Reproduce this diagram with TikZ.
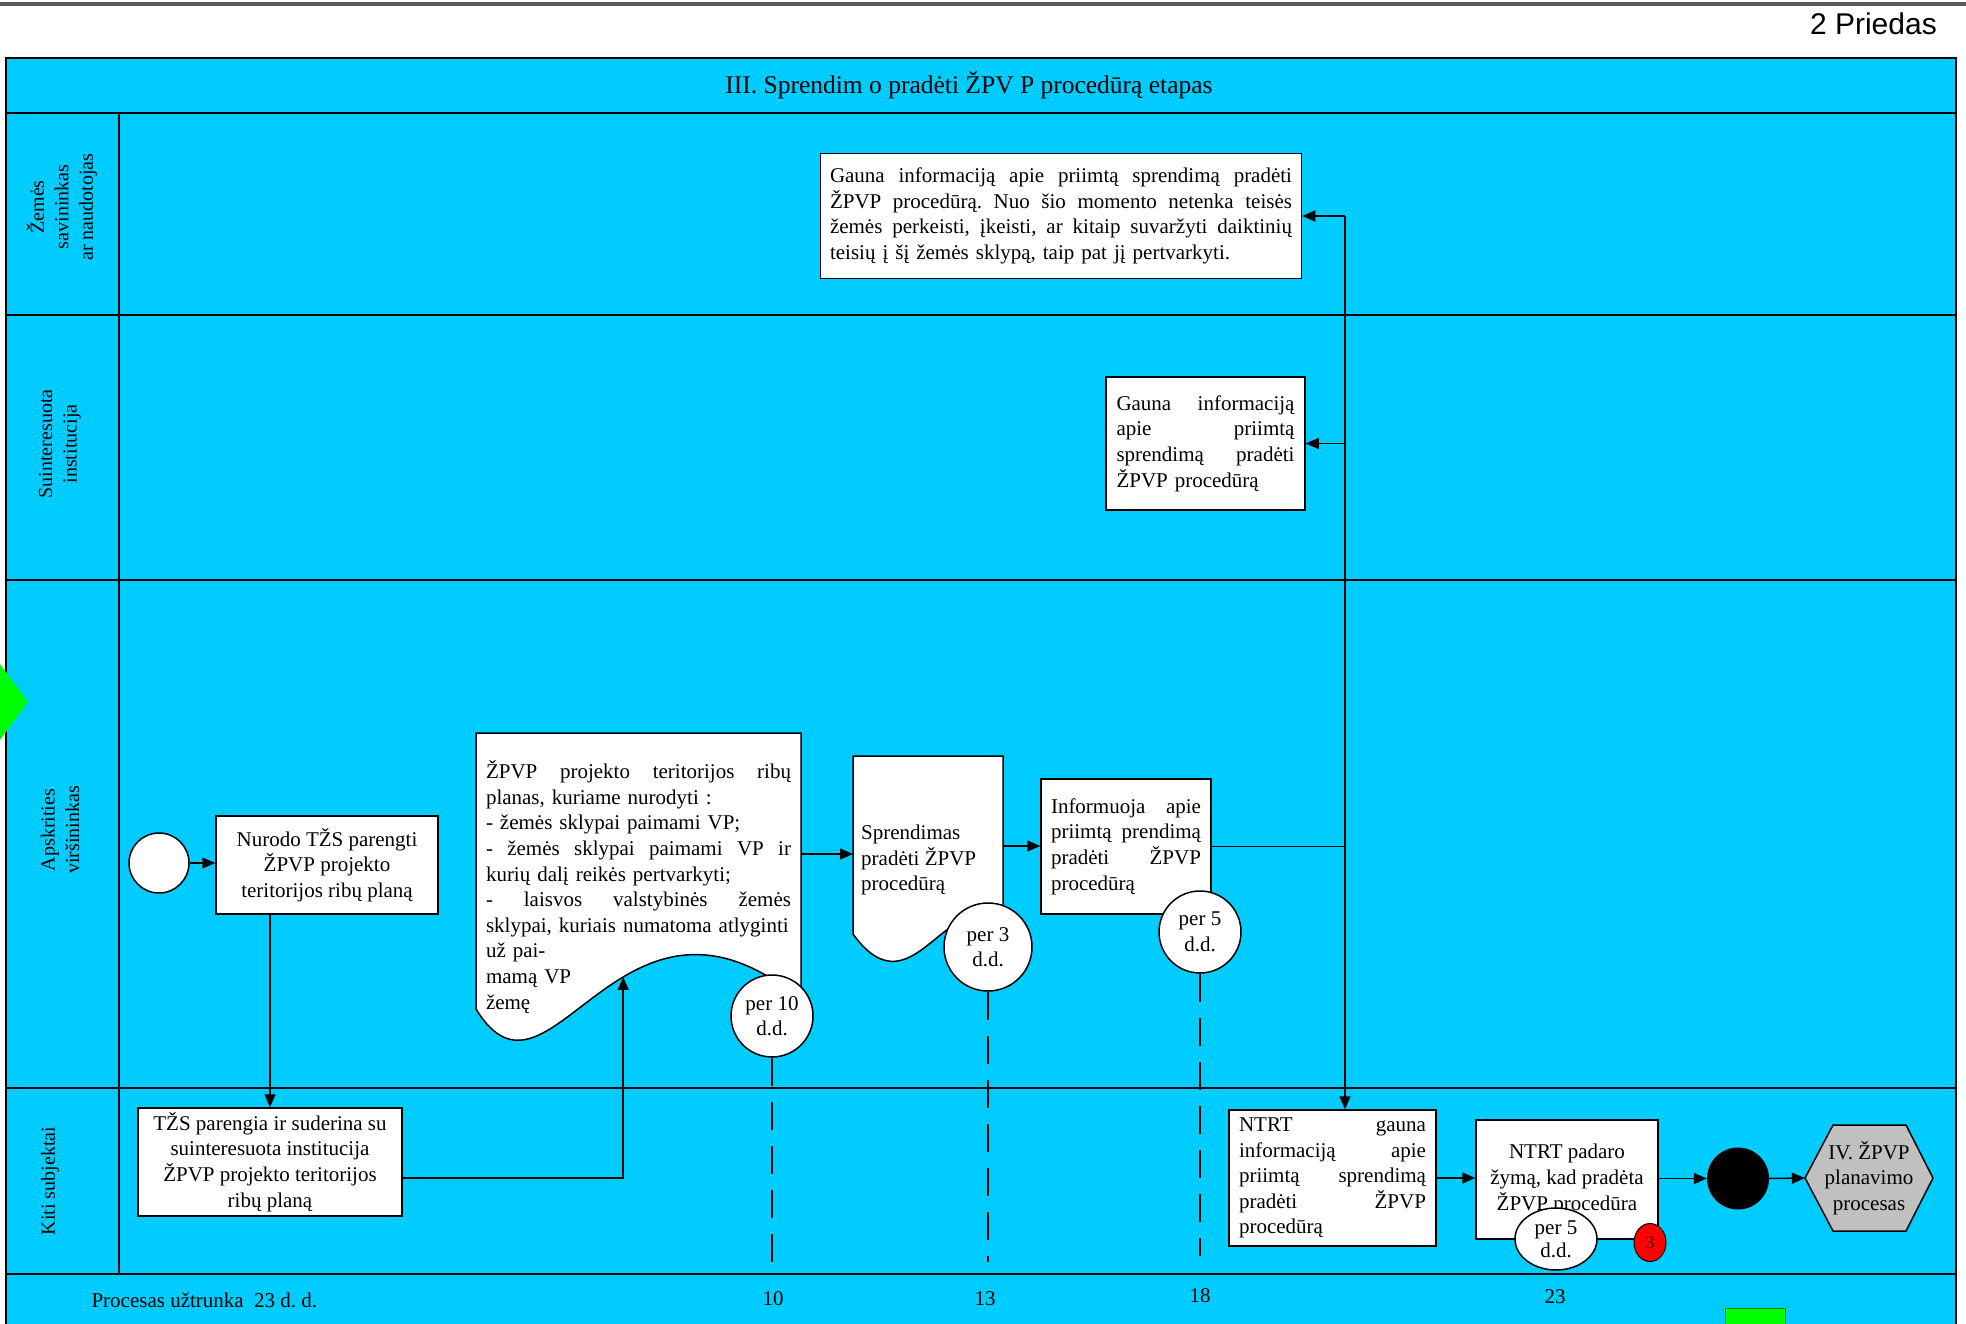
\documentclass[tikz,border=0pt]{standalone}
\usepackage{fontspec}
\setmainfont{Liberation Serif}
\newfontfamily\arialf{Liberation Sans}
\usetikzlibrary{arrows.meta,shapes.geometric,calc}
\definecolor{laneblue}{RGB}{0,204,255}
\definecolor{hexgray}{RGB}{192,192,192}
\definecolor{topgray}{RGB}{90,90,90}
\definecolor{startgreen}{RGB}{0,255,0}
\frenchspacing
\newcommand\jline[2]{\leavevmode\hbox to #1{\spaceskip=0.25em plus 1fil minus 0.05em\relax #2}}
\begin{document}
\begin{tikzpicture}[x=1pt,y=-1pt,
  txt/.style={font=\fontsize{21}{25.6}\selectfont, text=black},
  box/.style={txt, draw=black, line width=1.5pt, fill=white, inner sep=0pt, rectangle},
  lane/.style={line width=1.8pt, draw=black},
  conn/.style={line width=1.5pt, -{Triangle[length=13pt,width=11pt]}},
  plainconn/.style={line width=1.5pt},
  timer/.style={txt, circle, draw=black, line width=1.5pt, fill=white, inner sep=0pt, align=center, minimum size=82pt},
  dashline/.style={line width=1.5pt, dash pattern=on 28pt off 16pt},
  lanelabel/.style={txt, rotate=90, align=center, font=\fontsize{20}{24.5}\selectfont},
  docshape/.style={line width=1.5pt, draw=black, fill=white},
]
\useasboundingbox (0,0) rectangle (1966,1324);
\clip (0,0) rectangle (1966,1324);
\fill[white] (0,0) rectangle (1966,1324);

% header
\draw[topgray, line width=4pt] (0,4) -- (1966,4);
\node[anchor=east, font=\arialf\fontsize{30}{34}\selectfont, inner sep=0pt] (priedas) at (1937,24) {2 Priedas};

% pool and lanes
\fill[laneblue] (6,58) rectangle (1956,1330);
\draw[lane] (6,1330) -- (6,58) -- (1956,58) -- (1956,1330);
\foreach \yy in {113,315,580,1088,1274} \draw[lane] (6,\yy) -- (1956,\yy);
\draw[lane] (119,113) -- (119,1274);

\node[txt, font=\fontsize{25.5}{29}\selectfont] (title) at (969,85) {III. Sprendim o pradėti ŽPV P procedūrą etapas};

\node[lanelabel] (l1) at (62,207) {Žemės\\savininkas\\ar naudotojas};
\node[lanelabel] (l2) at (60,444) {Suinteresuota\\institucija};
\node[lanelabel] (l3) at (60,830) {Apskrities\\viršininkas};
\node[lanelabel] (l4) at (50,1181) {Kiti subjektai};

% green diamond at left edge
\fill[startgreen] (-12,648) -- (28,702) -- (-12,756) -- (-52,702) -- cycle;

% lane 1
\node[box, minimum width=481pt, minimum height=125pt, text width=462pt, align=left] (g1) at (1061,216)
 {\jline{462pt}{Gauna informaciją apie priimtą sprendimą pradėti}\\
  \jline{462pt}{ŽPVP procedūrą. Nuo šio momento netenka teisės}\\
  \jline{462pt}{žemės perkeisti, įkeisti, ar kitaip suvaržyti daiktinių}\\
  teisių į šį žemės sklypą, taip pat jį pertvarkyti.};

% lane 2
\node[box, minimum width=199pt, minimum height=133pt, text width=178pt, align=left] (g2) at (1205.5,443.5)
 {\jline{178pt}{Gauna informaciją}\\
  \jline{178pt}{apie priimtą}\\
  \jline{178pt}{sprendimą pradėti}\\
  ŽPVP procedūrą};

% lane 3
\node[circle, draw=black, line width=1.5pt, fill=white, minimum size=60pt, inner sep=0pt] (start) at (159,863) {};
\node[box, minimum width=222pt, minimum height=98pt, align=center] (nurodo) at (327,865)
 {Nurodo TŽS parengti\\ŽPVP projekto\\teritorijos ribų planą};

\draw[docshape] (476,733) -- (801,733) -- (801,1000)
  .. controls (620,850) and (550,1130) .. (476,1009) coordinate[pos=0.42] (dw) -- cycle;
\coordinate (docR) at (801,854);
\node[txt, text width=305pt, align=left, inner sep=0pt] (doctext) at (638.5,887)
 {\jline{305pt}{ŽPVP projekto teritorijos ribų}\\
  planas, kuriame nurodyti :\\
  - žemės sklypai paimami VP;\\
  \jline{305pt}{- žemės sklypai paimami VP ir}\\
  kurių dalį reikės pertvarkyti;\\
  \jline{305pt}{- laisvos valstybinės žemės}\\
  sklypai, kuriais numatoma atlyginti\\
  už pai-\\
  mamą VP\\
  žemę};
\node[timer] (t10) at (772,1016) {per 10\\d.d.};

\draw[docshape] (853,756) -- (1003,756) -- (1003,934)
  .. controls (950,870) and (915,1020) .. (853,934) -- cycle;
\coordinate (sprL) at (853,854);
\coordinate (sprR) at (1003,846);
\node[txt, anchor=west, align=left, inner sep=0pt] (sprtext) at (861,860) {Sprendimas\\pradėti ŽPVP\\procedūrą};
\node[timer, minimum size=88pt] (t3) at (988,947) {per 3\\d.d.};

\node[box, minimum width=170pt, minimum height=135pt, text width=150pt, align=left] (inf) at (1126,846.5)
 {\jline{150pt}{Informuoja apie}\\
  \jline{150pt}{priimtą prendimą}\\
  \jline{150pt}{pradėti ŽPVP}\\
  procedūrą};
\node[timer] (t5a) at (1200,932) {per 5\\d.d.};

% lane 4
\node[box, minimum width=264pt, minimum height=108pt, align=center] (tzs) at (270,1162)
 {TŽS parengia ir suderina su\\suinteresuota institucija\\ŽPVP projekto teritorijos\\ribų planą};

\node[box, minimum width=207pt, minimum height=136pt, text width=187pt, align=left] (ntrt) at (1332.5,1178)
 {\jline{187pt}{NTRT gauna}\\
  \jline{187pt}{informaciją apie}\\
  \jline{187pt}{priimtą sprendimą}\\
  \jline{187pt}{pradėti ŽPVP}\\
  procedūrą};

\node[box, minimum width=182pt, minimum height=119pt, align=center] (padaro) at (1567,1179.5)
 {NTRT padaro\\žymą, kad pradėta\\ŽPVP procedūra};
\node[txt, ellipse, draw=black, line width=1.5pt, fill=white, minimum width=82pt, minimum height=62pt, inner sep=0pt, align=center, font=\fontsize{21}{23}\selectfont] (t5b) at (1556,1239) {per 5\\d.d.};
\node[ellipse, draw=black, line width=1pt, fill=red, minimum width=32pt, minimum height=38pt, inner sep=0pt, font=\fontsize{18}{20}\selectfont, text=red!40!black] (red3) at (1650,1242.5) {3};

\node[circle, fill=black, minimum size=62pt, inner sep=0pt] (endc) at (1738,1178.5) {};

\filldraw[fill=hexgray, draw=black, line width=1.5pt] (1805,1178) -- (1833,1125) -- (1906,1125) -- (1933,1178) -- (1906,1231) -- (1833,1231) -- cycle;
\node[txt, align=center, minimum width=128pt, minimum height=106pt, inner sep=0pt] (hex) at (1869,1178) {IV. ŽPVP\\planavimo\\procesas};

% connectors
\draw[conn] (start.east) -- (start.east -| nurodo.west);
\draw[conn] (nurodo.south -| tzs.north) -- (tzs.north);
\draw[conn] ($(tzs.east)+(0,16)$) -| (dw);
\draw[conn] (docR) -- (sprL);
\draw[conn] (sprR) -- (sprR -| inf.west);
\coordinate (jn) at (1345,846.5);
\draw[plainconn] (inf.east) -- (jn);
\draw[plainconn] (jn |- g1.east) -- (jn);
\draw[conn] (jn) -- (jn |- ntrt.north);
\draw[conn] (jn |- g1.east) -- (g1.east);
\draw[conn] (jn |- g2.east) -- (g2.east);
\draw[conn] (ntrt.east) -- (ntrt.east -| padaro.west);
\draw[conn] (padaro.east |- endc.west) -- (endc.west);
\draw[conn] (endc.east) -- (hex.west);

% time markers
\draw[dashline] (t10.south) -- (t10.south |- 0,1270);
\draw[dashline] (t3.south) -- (t3.south |- 0,1262);
\draw[dashline] (t5a.south) -- (t5a.south |- 0,1256);

% bottom band
\node[txt, anchor=west] (dur) at (88,1300) {Procesas užtrunka\ \ 23 d. d.};
\node[txt] (d10) at (773,1299) {10};
\node[txt] (d13) at (985,1299) {13};
\node[txt] (d18) at (1200,1296) {18};
\node[txt] (d23) at (1555,1297) {23};
\draw[fill=startgreen, draw=green!50!black, line width=1pt] (1725,1308) rectangle (1785,1330);
\end{tikzpicture}
\end{document}
